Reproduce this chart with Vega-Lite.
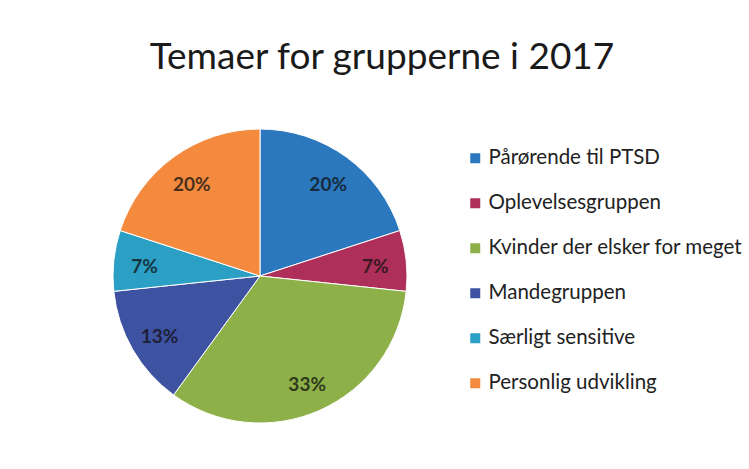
{
  "$schema": "https://vega.github.io/schema/vega-lite/v6.json",
  "autosize": {"type": "none"},
  "padding": {"left": 113, "top": 129, "right": 342, "bottom": 46},
  "width": 294,
  "height": 294,
  "background": "white",
  "title": {
    "text": "Temaer for grupperne i 2017",
    "font": "Lato",
    "fontSize": 37,
    "fontWeight": "normal",
    "color": "#1a1a1a",
    "anchor": "middle",
    "dx": 122,
    "offset": 50
  },
  "data": {
    "values": [
      {"idx": 1, "gruppe": "Pårørende til PTSD", "antal": 3, "pct": "20%"},
      {"idx": 2, "gruppe": "Oplevelsesgruppen", "antal": 1, "pct": "7%"},
      {"idx": 3, "gruppe": "Kvinder der elsker for meget", "antal": 5, "pct": "33%"},
      {"idx": 4, "gruppe": "Mandegruppen", "antal": 2, "pct": "13%"},
      {"idx": 5, "gruppe": "Særligt sensitive", "antal": 1, "pct": "7%"},
      {"idx": 6, "gruppe": "Personlig udvikling", "antal": 3, "pct": "20%"}
    ]
  },
  "encoding": {
    "theta": {"field": "antal", "type": "quantitative", "stack": true},
    "order": {"field": "idx", "type": "quantitative"}
  },
  "layer": [
    {
      "mark": {"type": "arc", "outerRadius": 147, "stroke": "white", "strokeWidth": 1},
      "encoding": {
        "color": {
          "field": "gruppe",
          "type": "nominal",
          "sort": ["Pårørende til PTSD", "Oplevelsesgruppen", "Kvinder der elsker for meget", "Mandegruppen", "Særligt sensitive", "Personlig udvikling"],
          "scale": {
            "domain": ["Pårørende til PTSD", "Oplevelsesgruppen", "Kvinder der elsker for meget", "Mandegruppen", "Særligt sensitive", "Personlig udvikling"],
            "range": ["#2b78bf", "#ae2f5a", "#8db148", "#3e52a2", "#2b9fc4", "#f38a3e"]
          },
          "legend": {
            "title": null,
            "orient": "none",
            "legendX": 352,
            "legendY": 19,
            "symbolType": "square",
            "symbolSize": 100,
            "symbolStrokeWidth": 0,
            "labelFont": "Lato",
            "labelFontSize": 20.5,
            "labelColor": "#222222",
            "labelOffset": 3,
            "labelLimit": 400,
            "rowPadding": 24
          }
        }
      }
    },
    {
      "mark": {"type": "text", "radius": 116, "dy": 3, "font": "Lato", "fontSize": 19, "fontWeight": "bold", "color": "#111111", "opacity": 0.75},
      "encoding": {
        "text": {"field": "pct", "type": "nominal"}
      }
    }
  ]
}
